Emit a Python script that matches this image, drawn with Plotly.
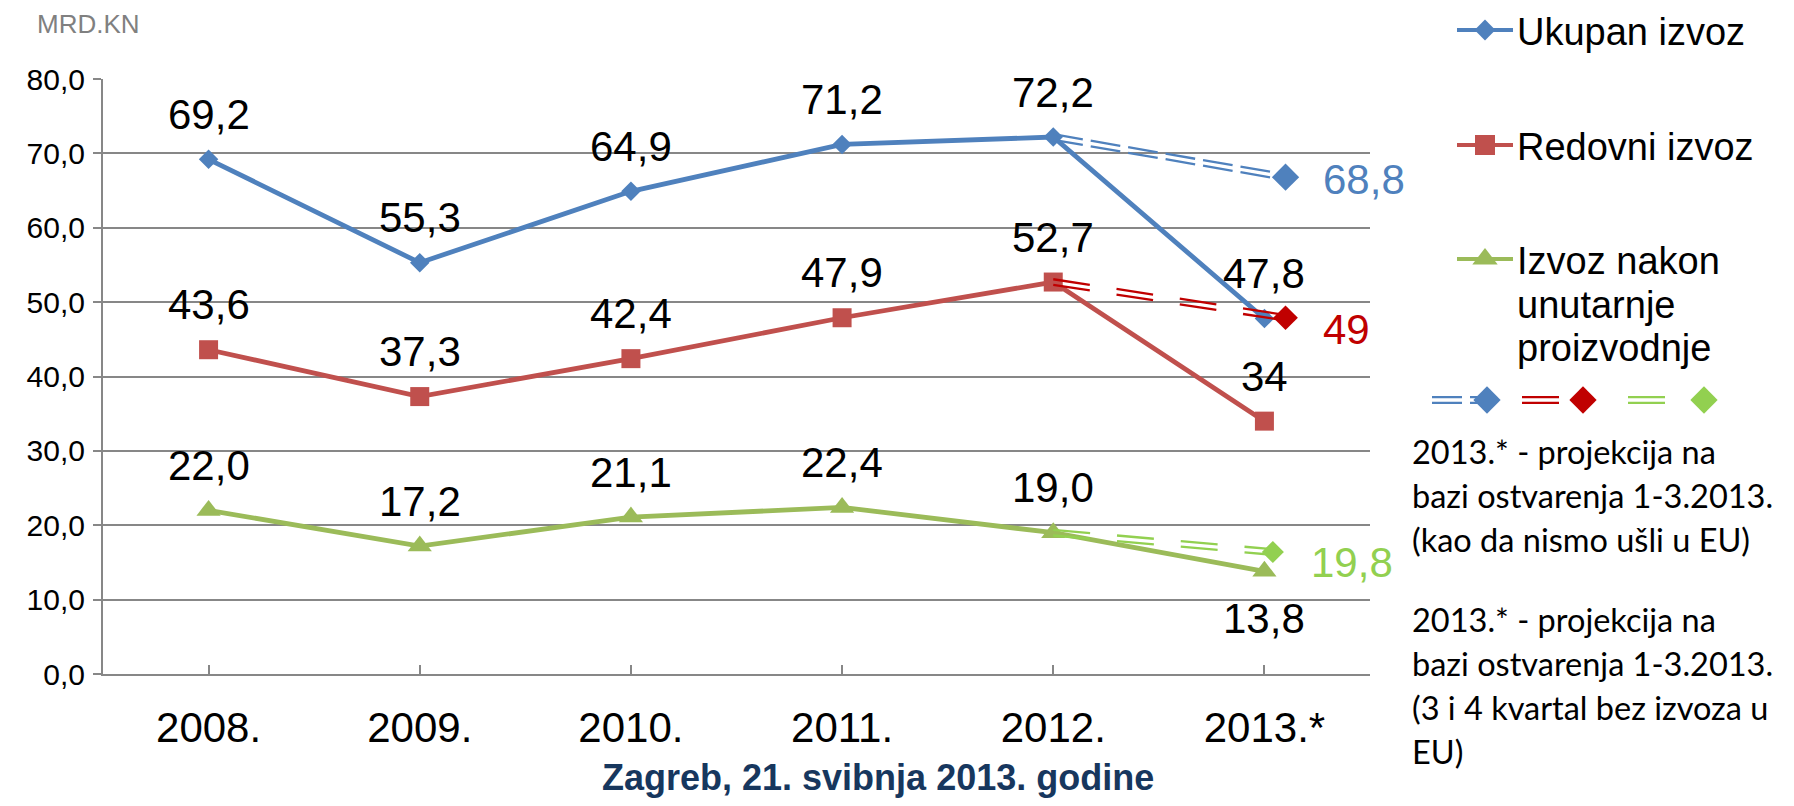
import plotly.graph_objects as go

# ---------------- data ----------------
categories = ["2008.", "2009.", "2010.", "2011.", "2012.", "2013.*"]
ukupan_izvoz = [69.2, 55.3, 64.9, 71.2, 72.2, 47.8]
redovni_izvoz = [43.6, 37.3, 42.4, 47.9, 52.7, 34]
izvoz_nakon = [22.0, 17.2, 21.1, 22.4, 19.0, 13.8]
series_names = ["Ukupan izvoz", "Redovni izvoz", "Izvoz nakon unutarnje proizvodnje"]

# 2013.* projection (as if Croatia had not joined the EU): drawn position and printed label
projection_values = [66.8, 47.9, 16.4]
projection_labels = ["68,8", "49", "19,8"]

y_ticks = [0, 10, 20, 30, 40, 50, 60, 70, 80]

note_1 = ["2013.* - projekcija na", "bazi ostvarenja 1-3.2013.", "(kao da nismo ušli u EU)"]
note_2 = ["2013.* - projekcija na", "bazi ostvarenja 1-3.2013.", "(3 i 4 kvartal bez izvoza u", "EU)"]
unit_label = "MRD.KN"
footer = "Zagreb, 21. svibnja 2013. godine"

# ---------------- style ----------------
PAGE_W, PAGE_H = 1794, 806
OFF = 8                      # default body margin of the html page
W, H = PAGE_W - 2 * OFF, PAGE_H - 2 * OFF
PLOT_L, PLOT_R, PLOT_T, PLOT_B = 103, 1370, 79, 674   # page pixels
FONT = "Liberation Sans, Arial, sans-serif"
NOTE_FONT = "Lato, Carlito, Calibri, sans-serif"
GRID = "#878787"
line_colors = ["#4F81BD", "#C0504D", "#9BBB59"]
symbols = ["diamond", "square", "triangle-up"]
marker_sizes = [15, 19, 21]
proj_colors = ["#4F81BD", "#C00000", "#92D050"]
proj_dash = ["30px,8px", "37px,27px", "37px,27px"]
proj_x_offset = [0.10, 0.10, 0.04]
proj_marker_sizes = [21, 19, 17]
proj_label_shift = [(35, -2), (35, -12), (36, -10)]
label_shift_default = 45
label_shift_override = {(2, 5): -47}
LABEL_SIZE = 42

series = [ukupan_izvoz, redovni_izvoz, izvoz_nakon]
xs = list(range(len(categories)))
px_per_unit = (PLOT_B - PLOT_T) / (y_ticks[-1] - y_ticks[0])


def fmt(v):
    return str(v).replace(".", ",")


fig = go.Figure()

# main series
for i, vals in enumerate(series):
    fig.add_trace(go.Scatter(
        x=xs, y=vals, mode="lines+markers", name=series_names[i],
        line=dict(color=line_colors[i], width=4.8),
        marker=dict(symbol=symbols[i], size=marker_sizes[i], color=line_colors[i],
                    line=dict(width=0)),
        cliponaxis=False, showlegend=False, xaxis="x", yaxis="y"))

# projection: double dashed line from 2012 to projected 2013.* + diamond
off = 2.8 / px_per_unit
for i, vals in enumerate(series):
    x0, y0 = xs[-2], vals[-2]
    x1, y1 = xs[-1] + proj_x_offset[i], projection_values[i]
    for sgn in (-1, 1):
        fig.add_trace(go.Scatter(
            x=[x0, x1], y=[y0 + sgn * off, y1 + sgn * off], mode="lines",
            line=dict(color=proj_colors[i], width=2.3, dash=proj_dash[i]),
            cliponaxis=False, showlegend=False, hoverinfo="skip", xaxis="x", yaxis="y"))
for i in range(3):
    fig.add_trace(go.Scatter(
        x=[xs[-1] + proj_x_offset[i]], y=[projection_values[i]], mode="markers",
        marker=dict(symbol="diamond", size=proj_marker_sizes[i], color=proj_colors[i],
                    line=dict(width=0)),
        cliponaxis=False, showlegend=False, xaxis="x", yaxis="y"))

annotations = []
# data labels
for i, vals in enumerate(series):
    for j, v in enumerate(vals):
        annotations.append(dict(
            x=xs[j], y=v, xref="x", yref="y", text=fmt(v), showarrow=False,
            yshift=label_shift_override.get((i, j), label_shift_default),
            xanchor="center", yanchor="middle",
            font=dict(family=FONT, size=LABEL_SIZE, color="black")))
# projection labels
for i in range(3):
    dx, dy = proj_label_shift[i]
    annotations.append(dict(
        x=xs[-1] + proj_x_offset[i], y=projection_values[i], xref="x", yref="y",
        text=projection_labels[i], showarrow=False, xshift=dx, yshift=dy,
        xanchor="left", yanchor="middle",
        font=dict(family=FONT, size=LABEL_SIZE, color=proj_colors[i])))

# ---------- custom legend (page-pixel coordinates on overlay axes x2/y2) ----------
leg_y = [30, 145, 259]
for i in range(3):
    fig.add_trace(go.Scatter(
        x=[1457, 1485, 1513], y=[leg_y[i]] * 3, mode="lines",
        line=dict(color=line_colors[i], width=4), showlegend=False, hoverinfo="skip",
        xaxis="x2", yaxis="y2"))
    fig.add_trace(go.Scatter(
        x=[1485], y=[leg_y[i]], mode="markers",
        marker=dict(symbol=symbols[i], size=marker_sizes[i] + 1, color=line_colors[i]),
        showlegend=False, hoverinfo="skip", xaxis="x2", yaxis="y2"))
legend_lines = [["Ukupan izvoz"], ["Redovni izvoz"], ["Izvoz nakon", "unutarnje", "proizvodnje"]]
for i, lines in enumerate(legend_lines):
    for k, t in enumerate(lines):
        annotations.append(dict(
            x=1515, y=leg_y[i] + 2 + k * 43.5, xref="x2", yref="y2", text=t, showarrow=False,
            xanchor="left", yanchor="middle", font=dict(family=FONT, size=38, color="black")))

# projection key row
key_y = 400
key_segments = [(1432, 1487), (1522, 1560), (1628, 1666)]
key_diamonds = [1487, 1583, 1704]
for i in range(3):
    for sgn in (-1, 1):
        fig.add_trace(go.Scatter(
            x=list(key_segments[i]), y=[key_y + sgn * 2.8] * 2, mode="lines",
            line=dict(color=proj_colors[i], width=2.3, dash=proj_dash[i]),
            showlegend=False, hoverinfo="skip", xaxis="x2", yaxis="y2"))
    fig.add_trace(go.Scatter(
        x=[key_diamonds[i]], y=[key_y], mode="markers",
        marker=dict(symbol="diamond", size=21, color=proj_colors[i]),
        showlegend=False, hoverinfo="skip", xaxis="x2", yaxis="y2"))

# notes
NOTE_X, NOTE_SIZE = 1410, 32.5
for k, t in enumerate(note_1):
    annotations.append(dict(
        x=NOTE_X, y=451 + k * 44, xref="x2", yref="y2", text=t, showarrow=False,
        xanchor="left", yanchor="middle", font=dict(family=NOTE_FONT, size=NOTE_SIZE, color="black")))
for k, t in enumerate(note_2):
    annotations.append(dict(
        x=NOTE_X, y=619 + k * 44, xref="x2", yref="y2", text=t, showarrow=False,
        xanchor="left", yanchor="middle", font=dict(family=NOTE_FONT, size=NOTE_SIZE, color="black")))

annotations.append(dict(
    x=35, y=24, xref="x2", yref="y2", text=unit_label, showarrow=False,
    xanchor="left", yanchor="middle", font=dict(family=FONT, size=26, color="#808080")))
annotations.append(dict(
    x=878, y=777, xref="x2", yref="y2", text="<b>" + footer + "</b>", showarrow=False,
    xanchor="center", yanchor="middle", font=dict(family=FONT, size=36, color="#17375E")))

fig.update_layout(
    width=W, height=H,
    margin=dict(l=0, r=0, t=0, b=0, autoexpand=False),
    paper_bgcolor="white", plot_bgcolor="rgba(0,0,0,0)",
    separators=",.",
    showlegend=False,
    annotations=annotations,
    xaxis=dict(
        domain=[(PLOT_L - OFF) / W, (PLOT_R - OFF) / W], range=[-0.5, 5.5],
        tickmode="array", tickvals=xs + [5.5], ticktext=categories + [""],
        ticks="inside", ticklen=9, tickwidth=1.5, tickcolor=GRID,
        showline=True, linecolor=GRID, linewidth=2,
        showgrid=False, zeroline=False,
        tickfont=dict(family=FONT, size=42, color="black"),
        ticklabelstandoff=16, anchor="y"),
    yaxis=dict(
        domain=[(OFF + H - PLOT_B) / H, (OFF + H - PLOT_T) / H], range=[0, 80],
        tickmode="array", tickvals=y_ticks, tickformat=".1f",
        ticks="outside", ticklen=8, tickwidth=1.5, tickcolor=GRID,
        showline=True, linecolor=GRID, linewidth=2,
        showgrid=True, gridcolor=GRID, gridwidth=1.5, zeroline=False,
        tickfont=dict(family=FONT, size=30, color="black"),
        ticklabelstandoff=2, anchor="x"),
    xaxis2=dict(domain=[0, 1], range=[OFF, OFF + W], visible=False, anchor="y2", fixedrange=True),
    yaxis2=dict(domain=[0, 1], range=[OFF + H, OFF], visible=False, anchor="x2", fixedrange=True),
)

fig.write_html("out.html")
